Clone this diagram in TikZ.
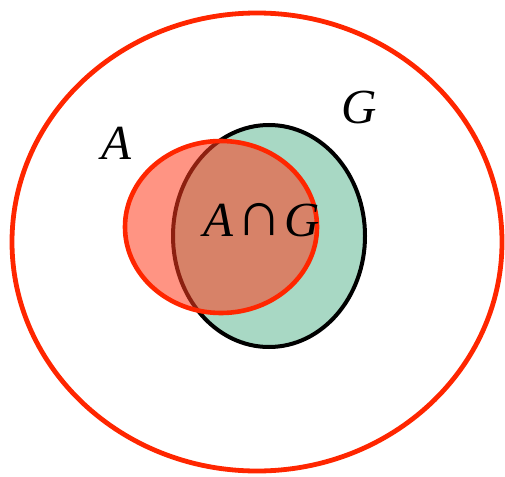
\documentclass[tikz,border=0pt]{standalone}
\usepackage{graphicx}
\usepackage{fontspec}
\setmainfont{Liberation Serif}
\definecolor{vennOut}{RGB}{255,38,0}
\definecolor{vennG}{RGB}{168,216,196}
\definecolor{vennA}{RGB}{255,60,30}

\begin{document}
\begin{tikzpicture}[x=1pt,y=-1pt,
    lbl/.style={font=\fontsize{49}{52}\selectfont\itshape, inner sep=0pt}]
        \useasboundingbox (0,0) rectangle (505,476);
        \draw[line width=4.8pt, vennOut](257,242) ellipse[x radius=245, y radius=229];
        \draw[line width=4pt, fill=vennG](269,236) ellipse[x radius=96, y radius=111];
        \fill[vennA, fill opacity=0.55](221,227) ellipse[x radius=96, y radius=86];
        \draw[line width=4.6pt, vennOut](221,227) ellipse[x radius=96, y radius=86];
        \node[lbl] (labA) at (116,143){A};
        \node[lbl] (labG) at (359,107){G};
        \node[lbl] (labAG) at (262,220){A\kern3pt{\upshape\raisebox{0.5pt}{\scalebox{1.3}{∩}}}\kern2pt G};
      \end{tikzpicture}
\end{document}
